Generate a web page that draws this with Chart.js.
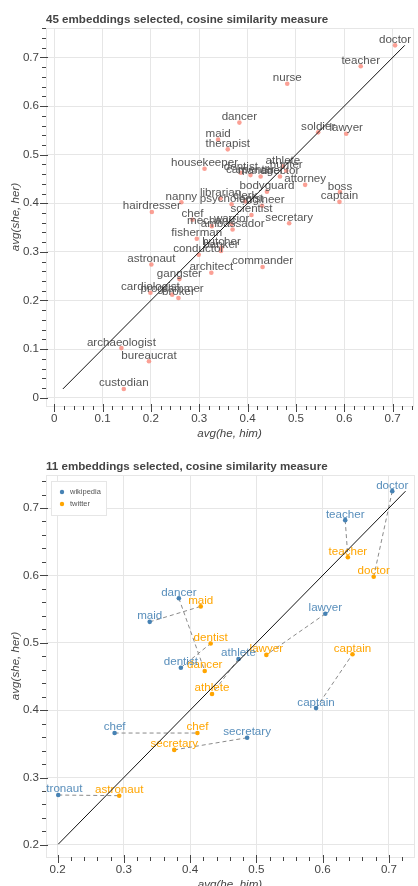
<!DOCTYPE html>
<html>
<head>
<meta charset="UTF-8">
<script src="https://cdn.jsdelivr.net/npm/chart.js@4.4.0/dist/chart.umd.min.js"></script>
<style>
    html, body {
        margin: 0;
        padding: 0;
        background: #fff;
        overflow: hidden;
    }
    .box {
        position: absolute;
        left: 0;
        width: 418px;
    }
    #box1 { top: 0; height: 441px; }
    #box2 { top: 450px; height: 442px; }
</style>
</head>
<body>
<div class="box" id="box1"><canvas id="chart1"></canvas></div>
<div class="box" id="box2"><canvas id="chart2"></canvas></div>

<script>
// ---- top chart: 45 words, wikipedia embeddings ----
const words1 = ['doctor', 'teacher', 'nurse', 'dancer', 'soldier', 'lawyer', 'maid', 'therapist',
    'housekeeper', 'dentist', 'athlete', 'hunter', 'carpenter', 'manager', 'director', 'bodyguard',
    'attorney', 'boss', 'captain', 'nanny', 'hairdresser', 'librarian', 'psychologist', 'clerk',
    'engineer', 'scientist', 'chef', 'mechanic', 'warrior', 'ambassador', 'secretary', 'fisherman',
    'butcher', 'banker', 'conductor', 'astronaut', 'commander', 'architect', 'gangster',
    'cardiologist', 'programmer', 'broker', 'archaeologist', 'bureaucrat', 'custodian'];
const heHim1 = [0.705, 0.634, 0.482, 0.383, 0.546, 0.604, 0.339, 0.359,
    0.311, 0.386, 0.473, 0.480, 0.406, 0.427, 0.467, 0.440,
    0.519, 0.591, 0.590, 0.263, 0.202, 0.344, 0.367, 0.395,
    0.430, 0.408, 0.286, 0.326, 0.367, 0.369, 0.486, 0.295,
    0.346, 0.345, 0.299, 0.201, 0.431, 0.325, 0.259,
    0.199, 0.244, 0.257, 0.139, 0.196, 0.144];
const sheHer1 = [0.725, 0.682, 0.646, 0.566, 0.546, 0.543, 0.531, 0.511,
    0.471, 0.463, 0.476, 0.467, 0.458, 0.455, 0.455, 0.424,
    0.438, 0.423, 0.403, 0.402, 0.382, 0.410, 0.398, 0.404,
    0.395, 0.376, 0.366, 0.353, 0.357, 0.346, 0.359, 0.327,
    0.309, 0.302, 0.294, 0.274, 0.269, 0.257, 0.244,
    0.216, 0.212, 0.205, 0.102, 0.075, 0.018];

// ---- bottom chart: 11 words, wikipedia vs twitter ----
const words2 = ['doctor', 'teacher', 'dancer', 'maid', 'lawyer', 'dentist', 'athlete',
    'captain', 'chef', 'secretary', 'astronaut'];
const wikiHeHim = [0.705, 0.634, 0.383, 0.339, 0.604, 0.386, 0.473, 0.590, 0.286, 0.486, 0.201];
const wikiSheHer = [0.725, 0.682, 0.566, 0.531, 0.543, 0.463, 0.476, 0.403, 0.366, 0.359, 0.274];
const twHeHim = [0.677, 0.638, 0.422, 0.416, 0.515, 0.431, 0.433, 0.645, 0.411, 0.376, 0.293];
const twSheHer = [0.598, 0.627, 0.458, 0.554, 0.482, 0.499, 0.424, 0.483, 0.366, 0.341, 0.273];

// tick labels
const ticks1 = [0, 0.1, 0.2, 0.3, 0.4, 0.5, 0.6, 0.7];
const tickText1 = ['0', '0.1', '0.2', '0.3', '0.4', '0.5', '0.6', '0.7'];
const ticks2 = [0.2, 0.3, 0.4, 0.5, 0.6, 0.7];
const tickText2 = ['0.2', '0.3', '0.4', '0.5', '0.6', '0.7'];

const FONT = "'Liberation Sans', Arial, sans-serif";
Chart.defaults.font.family = FONT;
Chart.defaults.color = '#444';

const toPts = (xs, ys) => xs.map((x, i) => ({ x: x, y: ys[i] }));
const isMajor = v => Math.abs(v * 10 - Math.round(v * 10)) < 1e-6;

function allTicks(min, max) {
    const out = [];
    for (let i = Math.ceil(min / 0.02 - 1e-9); i * 0.02 <= max + 1e-9; i++) {
        out.push({ value: +(i * 0.02).toFixed(2) });
    }
    return out;
}

function makeScale(min, max, majors, texts, title, isX) {
    return {
        type: 'linear',
        min: min,
        max: max,
        afterBuildTicks: s => { s.ticks = allTicks(min, max); },
        afterFit: s => { if (isX) s.height = 35; else s.width = 46; },
        ticks: {
            autoSkip: false,
            maxRotation: 0,
            padding: isX ? 6 : 7,
            color: '#444',
            font: { size: 11.6 },
            callback: v => {
                const k = majors.findIndex(m => Math.abs(m - v) < 1e-6);
                return k >= 0 ? texts[k] : '';
            }
        },
        grid: {
            drawTicks: false,
            color: c => (c.tick && isMajor(c.tick.value)) ? '#e6e6e6' : 'rgba(0,0,0,0)',
            lineWidth: 1
        },
        border: { display: true, color: '#444', width: 1 },
        title: {
            display: true,
            text: title,
            color: '#444',
            font: { size: 11.6, style: 'italic' },
            padding: isX ? { top: 0, bottom: 0 } : { top: 9, bottom: 0 }
        }
    };
}

// labels drawn right after the point datasets, clipped to the plot frame
const pointLabels = {
    id: 'pointLabels',
    afterDatasetDraw(chart, args) {
        const ds = chart.data.datasets[args.index];
        if (!ds.names) return;
        const { ctx, chartArea } = chart;
        ctx.save();
        ctx.beginPath();
        ctx.rect(chartArea.left, chartArea.top, chartArea.right - chartArea.left, chartArea.bottom - chartArea.top);
        ctx.clip();
        ctx.font = '11.6px ' + FONT;
        ctx.textAlign = 'center';
        ctx.textBaseline = 'bottom';
        ctx.fillStyle = ds.labelColor;
        args.meta.data.forEach((pt, j) => ctx.fillText(ds.names[j], pt.x, pt.y));
        ctx.restore();
    }
};

// frame outline, tick marks and the plot title
const frame = {
    id: 'frame',
    beforeDatasetsDraw(chart) {
        const { ctx, chartArea } = chart;
        ctx.save();
        ctx.strokeStyle = '#e6e6e6';
        ctx.lineWidth = 1;
        ctx.strokeRect(chartArea.left + 0.5, chartArea.top + 0.5,
            chartArea.right - chartArea.left, chartArea.bottom - chartArea.top);
        ctx.restore();
    },
    afterDraw(chart, args, opts) {
        const { ctx, chartArea, scales } = chart;
        ctx.save();
        ctx.strokeStyle = '#444';
        ctx.lineWidth = 1;
        ctx.beginPath();
        scales.x.ticks.forEach(t => {
            const px = Math.round(scales.x.getPixelForValue(t.value)) + 0.5;
            if (px < chartArea.left || px > chartArea.right) return;
            const maj = isMajor(t.value);
            ctx.moveTo(px, chartArea.bottom - (maj ? 2 : 0));
            ctx.lineTo(px, chartArea.bottom + (maj ? 6 : 4));
        });
        scales.y.ticks.forEach(t => {
            const py = Math.round(scales.y.getPixelForValue(t.value)) + 0.5;
            if (py < chartArea.top || py > chartArea.bottom) return;
            const maj = isMajor(t.value);
            ctx.moveTo(chartArea.left + (maj ? 2 : 0), py);
            ctx.lineTo(chartArea.left - (maj ? 6 : 4), py);
        });
        ctx.stroke();

        ctx.fillStyle = '#444';
        ctx.font = 'bold 11.6px ' + FONT;
        ctx.textAlign = 'left';
        ctx.textBaseline = 'alphabetic';
        ctx.fillText(opts.text, chartArea.left, chartArea.top - 5);

        if (opts.legend) {
            const lx = chartArea.left + 5, ly = chartArea.top + 6;
            ctx.fillStyle = '#fff';
            ctx.fillRect(lx, ly, 55, 34);
            ctx.strokeStyle = '#e6e6e6';
            ctx.strokeRect(lx + 0.5, ly + 0.5, 55, 34);
            ctx.font = '7.5px ' + FONT;
            ctx.textBaseline = 'middle';
            opts.legend.forEach((item, i) => {
                const cy = ly + 11 + i * 12;
                ctx.fillStyle = item.color;
                ctx.beginPath();
                ctx.arc(lx + 11, cy, 2.2, 0, Math.PI * 2);
                ctx.fill();
                ctx.fillStyle = '#555';
                ctx.fillText(item.text, lx + 19, cy);
            });
        }
        ctx.restore();
    }
};

const baseOpts = {
    responsive: true,
    maintainAspectRatio: false,
    animation: false,
    events: []
};

// ---------- chart 1 ----------
const lo1 = Math.min(...heHim1, ...sheHer1);
const hi1 = Math.max(...heHim1, ...sheHer1);

new Chart(document.getElementById('chart1'), {
    type: 'scatter',
    data: {
        datasets: [{
            data: toPts(heHim1, sheHer1),
            names: words1,
            labelColor: '#555',
            backgroundColor: 'rgba(250,128,114,0.75)',
            borderWidth: 0,
            pointRadius: 2.3,
            order: 2
        }, {
            type: 'line',
            data: [{ x: lo1, y: lo1 }, { x: hi1, y: hi1 }],
            borderColor: '#111',
            borderWidth: 1,
            pointRadius: 0,
            order: 1
        }]
    },
    options: Object.assign({}, baseOpts, {
        layout: { padding: { top: 28, right: 0, left: 0, bottom: 0 } },
        plugins: {
            legend: { display: false },
            tooltip: { enabled: false },
            frame: { text: '45 embeddings selected, cosine similarity measure' }
        },
        scales: {
            x: makeScale(-0.0169, 0.7422, ticks1, tickText1, 'avg(he, him)', true),
            y: makeScale(-0.0171, 0.7607, ticks1, tickText1, 'avg(she, her)', false)
        }
    }),
    plugins: [pointLabels, frame]
});

// ---------- chart 2 ----------
const lo2 = Math.min(...wikiHeHim, ...wikiSheHer, ...twHeHim, ...twSheHer);
const hi2 = Math.max(...wikiHeHim, ...wikiSheHer, ...twHeHim, ...twSheHer);

const links = words2.map((w, i) => ({
    type: 'line',
    data: [{ x: wikiHeHim[i], y: wikiSheHer[i] }, { x: twHeHim[i], y: twSheHer[i] }],
    borderColor: '#8a8a8a',
    borderWidth: 1,
    borderDash: [4, 3],
    pointRadius: 0,
    order: 3
}));

new Chart(document.getElementById('chart2'), {
    type: 'scatter',
    data: {
        datasets: links.concat([{
            data: toPts(wikiHeHim, wikiSheHer),
            names: words2,
            labelColor: 'rgba(70,130,180,0.9)',
            backgroundColor: '#4682b4',
            borderWidth: 0,
            pointRadius: 2.3,
            order: 2
        }, {
            data: toPts(twHeHim, twSheHer),
            names: words2,
            labelColor: '#ffa500',
            backgroundColor: '#ffa500',
            borderWidth: 0,
            pointRadius: 2.3,
            order: 2
        }, {
            type: 'line',
            data: [{ x: lo2, y: lo2 }, { x: hi2, y: hi2 }],
            borderColor: '#111',
            borderWidth: 1,
            pointRadius: 0,
            order: 1
        }])
    },
    options: Object.assign({}, baseOpts, {
        layout: { padding: { top: 25, right: 0, left: 0, bottom: 0 } },
        plugins: {
            legend: { display: false },
            tooltip: { enabled: false },
            frame: {
                text: '11 embeddings selected, cosine similarity measure',
                legend: [{ text: 'wikipedia', color: '#4682b4' }, { text: 'twitter', color: '#ffa500' }]
            }
        },
        scales: {
            x: makeScale(0.1825, 0.7378, ticks2, tickText2, 'avg(he, him)', true),
            y: makeScale(0.182, 0.749, ticks2, tickText2, 'avg(she, her)', false)
        }
    }),
    plugins: [pointLabels, frame]
});
</script>
</body>
</html>
